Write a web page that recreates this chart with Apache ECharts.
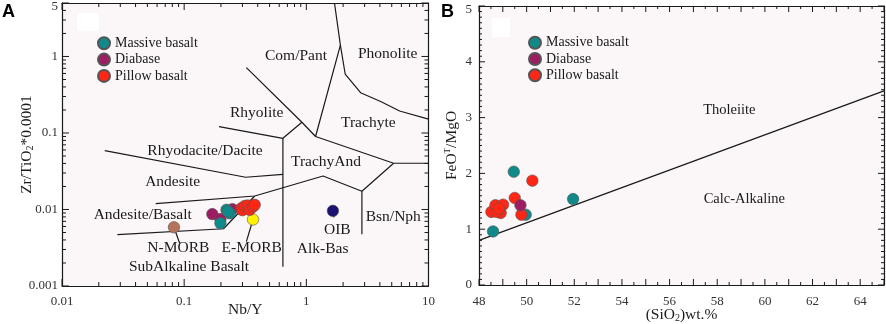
<!DOCTYPE html>
<html>
<head>
<meta charset="utf-8">
<script src="https://cdn.jsdelivr.net/npm/echarts@6/dist/echarts.min.js"></script>
<style>
  html, body { margin: 0; padding: 0; background: #fff; }
  #chart { width: 886px; height: 324px; }
</style>
</head>
<body>
<div id="chart"></div>
<script>
// ---- panel A data (Nb/Y vs Zr/TiO2*0.0001) ----
const massiveA_x = [0.198, 0.222, 0.236, 0.228];
const massiveA_y = [0.0066, 0.0099, 0.0089, 0.0094];
const diabaseA_x = [0.170, 0.198, 0.248];
const diabaseA_y = [0.0087, 0.0075, 0.0101];
const pillowA_x = [0.294, 0.300, 0.313, 0.331, 0.344, 0.366, 0.378];
const pillowA_y = [0.0104, 0.0098, 0.0111, 0.0113, 0.0099, 0.0109, 0.0115];
const refNames = ['N-MORB', 'E-MORB', 'OIB'];
const ref_x = [0.0825, 0.366, 1.65];
const ref_y = [0.00585, 0.0074, 0.0096];
const refColors = ['#b5735a', '#fff200', '#1c1070'];

// field boundaries (Winchester & Floyd), data units
const bndPhonolite = [[1.70, 5], [1.90, 1.41], [2.08, 0.59], [2.78, 0.336], [4.1, 0.256], [5.8, 0.194], [10, 0.152]];
const bndComPant = [[1.90, 1.41], [1.19, 0.090]];
const bndRhyolite = [[0.323, 0.714], [0.92, 0.138], [1.19, 0.090], [5.18, 0.0402], [10, 0.0402]];
const bndRhyodacite = [[0.193, 0.121], [0.643, 0.0852], [0.92, 0.138]];
const bndVertical = [[0.643, 0.0852], [0.643, 0.00179]];
const bndDacite = [[0.0224, 0.0587], [0.319, 0.0264], [0.643, 0.0287]];
const bndAndesite = [[0.0585, 0.0119], [0.378, 0.0150], [1.37, 0.0274], [2.85, 0.0173], [5.18, 0.0402]];
const bndBsnNph = [[2.85, 0.0173], [2.85, 0.00474]];
const bndSubAlk = [[0.0284, 0.00468], [0.21, 0.0056], [0.378, 0.0150]];
const ptrNMorb = [[0.0825, 0.00585], [0.092, 0.0036]];
const ptrEMorb = [[0.366, 0.0074], [0.323, 0.0038]];
const ptrOib = [[1.65, 0.0096], [1.68, 0.0079]];

// tick values, panel A
const xMajorA = [0.01, 0.1, 1, 10];
const xMinorA = [0.02, 0.03, 0.04, 0.05, 0.06, 0.07, 0.08, 0.09,
                 0.2, 0.3, 0.4, 0.5, 0.6, 0.7, 0.8, 0.9,
                 2, 3, 4, 5, 6, 7, 8, 9];
const yMajorA = [0.001, 0.01, 0.1, 1, 5];
const yMinorA = [0.002, 0.003, 0.004, 0.005, 0.006, 0.007, 0.008, 0.009,
                 0.02, 0.03, 0.04, 0.05, 0.06, 0.07, 0.08, 0.09,
                 0.2, 0.3, 0.4, 0.5, 0.6, 0.7, 0.8, 0.9,
                 2, 3, 4];

// ---- panel B data (SiO2 vs FeOT/MgO) ----
const massiveB_x = [49.46, 51.95, 49.96, 48.59];
const massiveB_y = [2.03, 1.54, 1.26, 0.96];
const diabaseB_x = [49.74];
const diabaseB_y = [1.43];
const pillowB_x = [50.24, 49.50, 49.78, 48.52, 48.69, 48.91, 49.01, 48.75, 48.83];
const pillowB_y = [1.87, 1.56, 1.26, 1.31, 1.43, 1.29, 1.44, 1.31, 1.37];
const bndTholeiite = [[48, 0.80], [65, 3.48]];

// tick values, panel B
const steps = (a, b, s) => { const out = []; for (let v = a; v <= b + 1e-9; v += s) out.push(+v.toFixed(2)); return out; };
const xMajorB = steps(48, 65, 1);
const xMinorB = steps(48.5, 64.5, 1);
const yMajorB = steps(0, 5, 1);
const yMinorB = steps(0.1, 4.9, 0.1).filter(v => Math.abs(v - Math.round(v)) > 0.01);

const FONT = '"Liberation Serif", "Times New Roman", serif';
const INK = '#1a1a1a';
const TEAL = '#10898a';
const PURPLE = '#9c1d62';
const RED = '#ff2616';
const zip = (xs, ys) => xs.map((x, i) => [x, ys[i]]);

const chart = echarts.init(document.getElementById('chart'));

function logFmt(v) { return String(+(+v).toPrecision(6)); }

const topRich = { top: { padding: [8, 0, 0, 0], fontSize: 13, fontFamily: FONT, color: '#333' } };
const nameRich = {
  sub: { fontSize: 10, fontFamily: FONT, color: INK, padding: [7, 0, 0, 0] },
  sup: { fontSize: 9, fontFamily: FONT, color: INK, padding: [0, 0, 8, 0] }
};

function axis(grid, type, min, max, pos, label, name, gap) {
  const isX = pos === 'bottom' || pos === 'top';
  const a = {
    gridIndex: grid, type: type, min: min, max: max, position: pos,
    axisLine: { show: true, onZero: false, lineStyle: { color: INK, width: 1.2 } },
    axisTick: { show: false },
    minorTick: { show: false },
    splitLine: { show: false },
    axisLabel: { show: false },
    name: name || '',
    nameLocation: 'middle',
    nameGap: gap || 0,
    nameMoveOverlap: false,
    nameTextStyle: { fontSize: 15.5, fontFamily: FONT, color: INK, rich: nameRich }
  };
  if (type === 'log') a.logBase = 10;
  if (type === 'value') a.interval = 1;
  if (label) {
    a.axisLabel = Object.assign({
      margin: isX ? 9.5 : (type === 'log' ? 4 : 7),
      fontSize: 13, fontFamily: FONT, color: '#333', rich: topRich
    }, label);
  }
  return a;
}

// tick marks drawn inward on all four sides, positioned through the axes' scales
function tickSeries(xi, yi, xMaj, xMin, yMaj, yMin, xRef, yRef, majLen, minLen) {
  const data = [];
  xMaj.forEach(v => data.push([v, yRef, 0, majLen]));
  xMin.forEach(v => data.push([v, yRef, 0, minLen]));
  yMaj.forEach(v => data.push([xRef, v, 1, majLen]));
  yMin.forEach(v => data.push([xRef, v, 1, minLen]));
  return {
    type: 'custom', xAxisIndex: xi, yAxisIndex: yi, data: data, silent: true, clip: false, z: 6,
    renderItem: function (params, api) {
      const cs = params.coordSys;
      const p = api.coord([api.value(0), api.value(1)]);
      const len = api.value(3);
      let segs;
      if (api.value(2) === 0) {
        const b = cs.y + cs.height, t = cs.y;
        segs = [[p[0], b, p[0], b - len], [p[0], t, p[0], t + len]];
      } else {
        const l = cs.x, r = cs.x + cs.width;
        segs = [[l, p[1], l + len, p[1]], [r, p[1], r - len, p[1]]];
      }
      return {
        type: 'group',
        children: segs.map(s => ({
          type: 'line', shape: { x1: s[0], y1: s[1], x2: s[2], y2: s[3] },
          style: { stroke: INK, lineWidth: 1 }
        }))
      };
    }
  };
}

function pts(name, data, color, xi, yi) {
  return {
    name: name, type: 'scatter', data: data, xAxisIndex: xi, yAxisIndex: yi,
    symbol: 'circle', symbolSize: 11.5,
    itemStyle: { color: color, borderColor: '#555', borderWidth: 0.6, opacity: 1 },
    emphasis: { disabled: true }, z: 5
  };
}

function bnd(data, xi, yi) {
  return {
    type: 'line', data: data, xAxisIndex: xi, yAxisIndex: yi,
    symbol: 'none', silent: true, animation: false,
    lineStyle: { color: INK, width: 1.2 }, z: 3
  };
}

function txt(x, y, s, size) {
  return {
    type: 'text', x: x, y: y, silent: true,
    style: { text: s, fill: INK, font: (size || 15.5) + 'px ' + FONT, textAlign: 'center', textVerticalAlign: 'middle' },
    z: 10
  };
}

const legendBase = {
  orient: 'vertical', icon: 'circle', itemWidth: 12, itemHeight: 12, itemGap: 0.3,
  padding: 0,
  selectedMode: false,
  data: ['Massive basalt', 'Diabase', 'Pillow basalt'],
  textStyle: { fontSize: 14, lineHeight: 16, fontFamily: FONT, color: INK }
};

chart.setOption({
  animation: false,
  backgroundColor: '#fff',
  grid: [
    { left: 62, top: 3, width: 366.5, height: 283, show: false, outerBoundsMode: 'none' },
    { left: 479, top: 6, width: 405, height: 279, show: false, outerBoundsMode: 'none' }
  ],
  legend: [
    Object.assign({}, legendBase, { left: 97, top: 35.3 }),
    Object.assign({}, legendBase, { left: 528, top: 34.7 })
  ],
  xAxis: [
    axis(0, 'log', 0.01, 10, 'bottom', { customValues: xMajorA, formatter: logFmt }, 'Nb/Y', 16),
    axis(0, 'log', 0.01, 10, 'top'),
    axis(1, 'value', 48, 65, 'bottom', { margin: 10, formatter: v => (v % 2 === 0 ? String(v) : '') }, '(SiO{sub|2})wt.%', 21),
    axis(1, 'value', 48, 65, 'top')
  ],
  yAxis: [
    axis(0, 'log', 0.001, 5, 'left', {
      customValues: yMajorA,
      formatter: v => { const s = logFmt(v); return s === '5' ? '{top|5}' : s; }
    }, 'Zr/TiO{sub|2}*0.0001', 27),
    axis(0, 'log', 0.001, 5, 'right'),
    axis(1, 'value', 0, 5, 'left', { formatter: v => (v === 5 ? '{top|5}' : String(v)) }, 'FeO{sup|T}/MgO', 19),
    axis(1, 'value', 0, 5, 'right')
  ],
  series: [
    bnd(bndPhonolite, 0, 0), bnd(bndComPant, 0, 0), bnd(bndRhyolite, 0, 0),
    bnd(bndRhyodacite, 0, 0), bnd(bndVertical, 0, 0), bnd(bndDacite, 0, 0),
    bnd(bndAndesite, 0, 0), bnd(bndBsnNph, 0, 0), bnd(bndSubAlk, 0, 0),
    bnd(ptrNMorb, 0, 0), bnd(ptrEMorb, 0, 0), bnd(ptrOib, 0, 0),
    pts(refNames[0], [[ref_x[0], ref_y[0]]], refColors[0], 0, 0),
    pts(refNames[1], [[ref_x[1], ref_y[1]]], refColors[1], 0, 0),
    pts(refNames[2], [[ref_x[2], ref_y[2]]], refColors[2], 0, 0),
    pts('Diabase', zip(diabaseA_x, diabaseA_y), PURPLE, 0, 0),
    pts('Massive basalt', zip(massiveA_x, massiveA_y), TEAL, 0, 0),
    pts('Pillow basalt', zip(pillowA_x, pillowA_y), RED, 0, 0),
    tickSeries(0, 0, xMajorA, xMinorA, yMajorA, yMinorA, 0.1, 0.01, 7, 4),
    bnd(bndTholeiite, 2, 2),
    pts('Massive basalt', zip(massiveB_x, massiveB_y), TEAL, 2, 2),
    pts('Pillow basalt', zip(pillowB_x, pillowB_y), RED, 2, 2),
    pts('Diabase', zip(diabaseB_x, diabaseB_y), PURPLE, 2, 2),
    tickSeries(2, 2, xMajorB, xMinorB, yMajorB, yMinorB, 50, 1, 6, 3)
  ],
  graphic: [
    // plot-area tint, kept under everything
    { type: 'rect', z: -10, silent: true, shape: { x: 62, y: 3, width: 366.5, height: 283 }, style: { fill: '#fbf6f7' } },
    { type: 'rect', z: -10, silent: true, shape: { x: 479, y: 6, width: 405, height: 279 }, style: { fill: '#fbf6f7' } },
    { type: 'rect', shape: { x: 77, y: 13, width: 22, height: 18 }, style: { fill: '#fff' }, silent: true },
    { type: 'rect', shape: { x: 492, y: 18, width: 18, height: 19 }, style: { fill: '#fff' }, silent: true },
    { type: 'text', x: 2, y: 12.5, silent: true,
      style: { text: 'A', fill: '#000', font: 'bold 18px "Liberation Sans", Arial, sans-serif', textVerticalAlign: 'middle' } },
    { type: 'text', x: 441, y: 12, silent: true,
      style: { text: 'B', fill: '#000', font: 'bold 18px "Liberation Sans", Arial, sans-serif', textVerticalAlign: 'middle' } },
    txt(296, 56, 'Com/Pant'),
    txt(387.7, 54.3, 'Phonolite'),
    txt(256.7, 113.3, 'Rhyolite'),
    txt(368.3, 123.3, 'Trachyte'),
    txt(205, 151, 'Rhyodacite/Dacite'),
    txt(326, 162.3, 'TrachyAnd'),
    txt(172.7, 182.3, 'Andesite'),
    txt(142.7, 215, 'Andesite/Basalt'),
    txt(393.3, 216.7, 'Bsn/Nph'),
    txt(337.3, 230, 'OIB'),
    txt(178.3, 248.3, 'N-MORB'),
    txt(251.7, 247.7, 'E-MORB'),
    txt(322.7, 249.3, 'Alk-Bas'),
    txt(189, 266.7, 'SubAlkaline Basalt'),
    txt(729.3, 110, 'Tholeiite', 14.5),
    txt(744.3, 199.3, 'Calc-Alkaline', 14.5)
  ]
});
</script>
</body>
</html>
